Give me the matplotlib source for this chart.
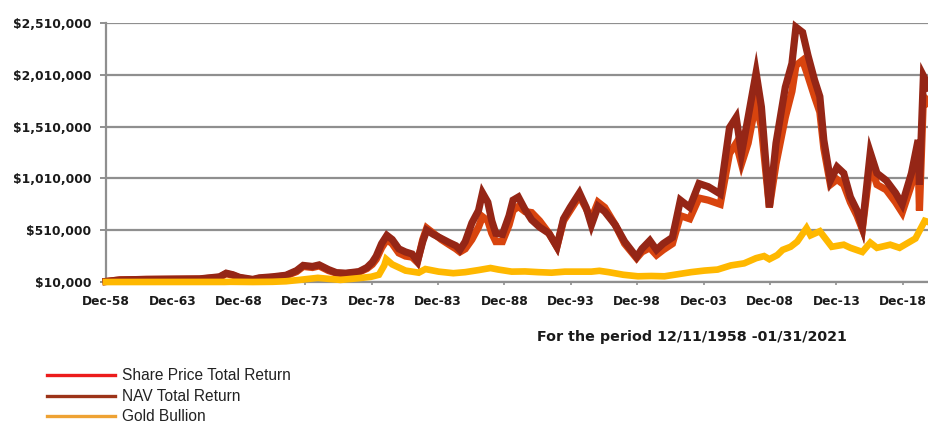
import matplotlib
matplotlib.use("Agg")
import matplotlib.pyplot as plt
from matplotlib.lines import Line2D

# ---------------- data (values in thousands of dollars) ----------------
years = [1958.95, 1960.0, 1962.0, 1964.0, 1966.0, 1967.5, 1968.0, 1968.5, 1969.0, 1970.0,
         1970.5, 1971.5, 1972.5, 1973.3, 1973.8, 1974.5, 1975.0, 1975.7, 1976.3, 1977.0,
         1978.0, 1978.6, 1979.0, 1979.3, 1979.7, 1980.1, 1980.5, 1981.0, 1981.5, 1982.0,
         1982.4, 1982.8, 1983.1, 1983.6, 1984.2, 1984.8, 1985.3, 1985.6, 1986.0, 1986.5,
         1987.0, 1987.3, 1987.7, 1988.0, 1988.3, 1988.8, 1989.3, 1989.6, 1990.0, 1990.5,
         1991.0, 1991.6, 1992.3, 1992.9, 1993.4, 1993.9, 1994.6, 1995.1, 1995.5, 1996.0,
         1996.5, 1997.3, 1998.0, 1998.9, 1999.3, 1999.9, 2000.4, 2000.9, 2001.6, 2002.2,
         2002.9, 2003.6, 2004.3, 2005.2, 2005.9, 2006.4, 2006.8, 2007.3, 2007.9, 2008.3,
         2008.9, 2009.4, 2010.1, 2010.6, 2010.9, 2011.4, 2011.8, 2012.3, 2012.7, 2013.0,
         2013.5, 2014.0, 2014.5, 2015.0, 2015.5, 2015.9, 2016.5, 2017.0, 2017.7, 2018.4,
         2018.9, 2019.6, 2020.1, 2020.2, 2020.5, 2020.9, 2021.08]

nav_total_return = [15, 30, 35, 38, 40, 60, 95, 80, 55, 35,
                    50, 60, 75, 120, 170, 160, 175, 130, 100, 95,
                    110, 150, 200, 260, 380, 460, 420, 330, 300, 280,
                    210, 400, 510, 470, 430, 390, 360, 320, 400, 580,
                    700, 870, 780, 600, 480, 470, 650, 800, 830, 710,
                    610, 540, 480, 350, 620, 730, 870, 730, 560, 740,
                    690, 560, 400, 250, 330, 410, 320, 380, 440, 800,
                    730, 960, 930, 860, 1500, 1600, 1250, 1600, 2030, 1700,
                    730, 1350, 1890, 2120, 2470, 2420, 2200, 1960, 1800, 1380,
                    990, 1120, 1060, 830, 700, 540, 1260, 1060, 990, 870,
                    760, 1060, 1380, 950, 2000, 1900, 1750]

share_price_total_return = [15, 30, 35, 36, 38, 55, 90, 75, 50, 30,
                            45, 55, 70, 110, 160, 150, 165, 120, 95, 90,
                            105, 140, 180, 230, 340, 420, 380, 290, 260, 250,
                            200, 420, 530, 480, 420, 370, 330, 300, 330, 420,
                            540, 640, 600, 480, 400, 400, 560, 700, 740, 690,
                            680, 600, 480, 350, 600, 700, 840, 720, 620, 780,
                            730, 560, 380, 240, 300, 340, 270, 320, 380, 650,
                            620, 820, 800, 760, 1250, 1350, 1150, 1350, 1750, 1500,
                            730, 1150, 1600, 1850, 2100, 2150, 2000, 1800, 1650, 1300,
                            950, 1000, 950, 780, 650, 520, 1150, 950, 900, 780,
                            680, 950, 1200, 700, 1800, 1750, 1600]

gold_years = [1958.95, 1967.9, 1968.3, 1970.0, 1971.5, 1972.5, 1973.5, 1974.9, 1976.6, 1977.9,
              1978.9, 1979.5, 1979.9, 1980.05, 1980.5, 1981.0, 1981.5, 1982.5, 1983.0, 1984.0,
              1985.1, 1986.0, 1987.0, 1987.9, 1988.5, 1989.5, 1990.5, 1991.5, 1992.5, 1993.5,
              1994.5, 1995.5, 1996.1, 1996.8, 1997.9, 1999.0, 2000.0, 2001.0, 2002.0, 2003.0,
              2004.0, 2005.0, 2006.0, 2006.5, 2007.0, 2007.9, 2008.5, 2008.9, 2009.5, 2009.9,
              2010.5, 2011.0, 2011.7, 2012.0, 2012.7, 2013.3, 2013.6, 2014.5, 2015.0, 2015.9,
              2016.5, 2017.0, 2018.0, 2018.7, 2019.5, 2019.9, 2020.6, 2021.08]

gold_bullion = [10, 10.5, 12, 10, 12, 17, 30, 50, 30, 46,
                60, 80, 170, 230, 180, 150, 120, 100, 135, 110,
                95, 105, 125, 145, 130, 110, 112, 105, 100, 110,
                110, 110, 118, 105, 80, 65, 68, 65, 85, 105,
                120, 130, 170, 180, 190, 240, 260, 230, 270, 320,
                350, 400, 530, 460, 500, 400, 350, 370, 340, 300,
                390, 340, 370, 340, 400, 430, 600, 580]

x_tick_years = [1958.95 + 5 * i for i in range(13)]
x_tick_labels = ["Dec-58", "Dec-63", "Dec-68", "Dec-73", "Dec-78", "Dec-83", "Dec-88",
                 "Dec-93", "Dec-98", "Dec-03", "Dec-08", "Dec-13", "Dec-18"]
y_ticks = [10000, 510000, 1010000, 1510000, 2010000, 2510000]
y_tick_labels = ["$10,000", "$510,000", "$1,010,000", "$1,510,000", "$2,010,000", "$2,510,000"]

series_names = ["Share Price Total Return", "NAV Total Return", "Gold Bullion"]

# ---------------- figure ----------------
W, H = 929, 423
fig = plt.figure(figsize=(W / 100, H / 100), dpi=100)
fig.patch.set_facecolor("white")
ax = fig.add_axes([106 / W, 1 - 282 / H, (929 - 106) / W, (282 - 23) / H])

col_sp = "#d8440e"
col_nav = "#952616"
col_gold = "#ffb800"
grid_col = "#8f8f8f"

ax.plot(years, [v * 1000 for v in share_price_total_return], color=col_sp, lw=5.2,
        solid_joinstyle="miter", zorder=3, clip_on=False)
ax.plot(years, [v * 1000 for v in nav_total_return], color=col_nav, lw=5.2,
        solid_joinstyle="miter", zorder=4, clip_on=False)
ax.plot(gold_years, [v * 1000 for v in gold_bullion], color=col_gold, lw=4.8,
        solid_joinstyle="miter", zorder=5, clip_on=False)

ax.set_xlim(1958.95, 2020.92)
ax.set_ylim(10000, 2510000)
ax.set_yticks(y_ticks)
ax.set_yticklabels(y_tick_labels)
ax.set_xticks(x_tick_years)
ax.set_xticklabels(x_tick_labels)

for s in ["top", "right"]:
    ax.spines[s].set_visible(False)
for s in ["left", "bottom"]:
    ax.spines[s].set_color(grid_col)
    ax.spines[s].set_linewidth(1.6)
    ax.spines[s].set_zorder(2)

ax.yaxis.grid(True, color=grid_col, lw=1.6, zorder=1)
ax.set_axisbelow(True)
ax.tick_params(axis="y", length=4.5, width=1.4, color=grid_col, pad=6, labelcolor="#1a1a1a")
ax.tick_params(axis="x", length=2.5, width=1.2, color=grid_col, pad=7, labelcolor="#1a1a1a")
for lab in ax.get_yticklabels() + ax.get_xticklabels():
    lab.set_fontfamily("DejaVu Sans")
    lab.set_fontweight("bold")
    lab.set_fontsize(8.8)

fig.text(692 / W, 1 - 337 / H, "For the period 12/11/1958 -01/31/2021", ha="center", va="center",
         family="DejaVu Sans", weight="bold", size=10.3, color="#1a1a1a")

# ---------------- legend (manual, below chart) ----------------
leg_cols = ["#ec1c1c", "#9c3318", "#eea233"]
leg_y = [375, 396, 416]
for name, c, yy in zip(series_names, leg_cols, leg_y):
    fig.add_artist(Line2D([47 / W, 115 / W], [1 - yy / H, 1 - yy / H], color=c, lw=2.4,
                          transform=fig.transFigure))
    fig.text(122 / W, 1 - yy / H, name, ha="left", va="center", family="Liberation Sans",
             size=11.2, color="#222222")

fig.savefig("out.png", dpi=100)
